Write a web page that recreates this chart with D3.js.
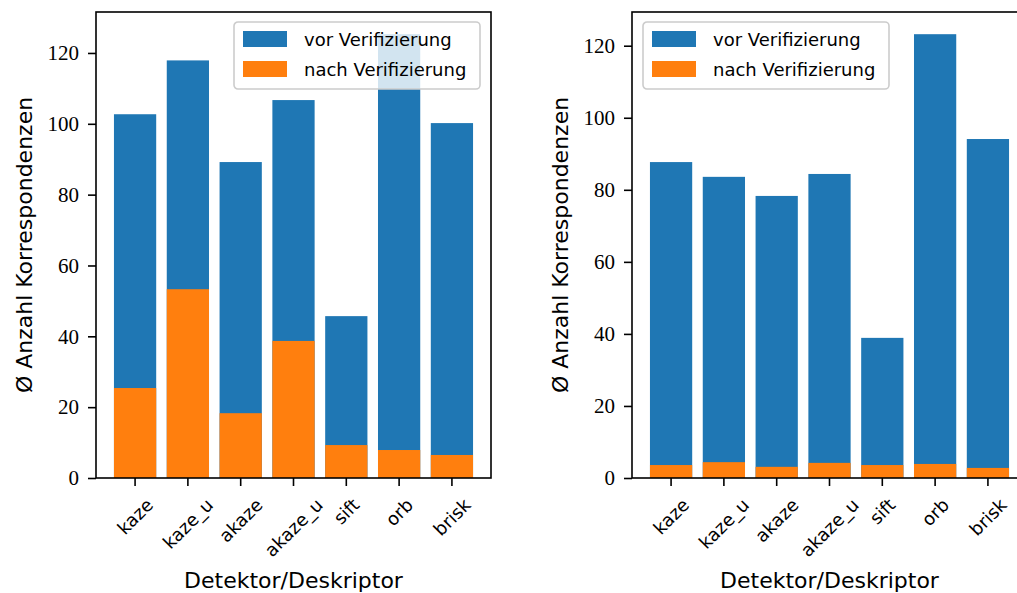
<!DOCTYPE html>
<html>
<head>
<meta charset="utf-8">
<script src="https://cdn.jsdelivr.net/npm/d3@7"></script>
<style>
  body { margin: 0; background: #fff; }
  svg { display: block; }
</style>
</head>
<body>
<script>
// categories on the x axis
var categories = ["kaze", "kaze_u", "akaze", "akaze_u", "sift", "orb", "brisk"];

// left panel
var vorLeft = [102.7, 117.9, 89.2, 106.7, 45.7, 125.3, 100.2];
var nachLeft = [25.4, 53.3, 18.3, 38.7, 9.3, 7.9, 6.5];

// right panel
var vorRight = [87.7, 83.6, 78.3, 84.4, 38.9, 123.2, 94.1];
var nachRight = [3.6, 4.4, 3.1, 4.2, 3.6, 3.9, 2.8];

var yTicks = [0, 20, 40, 60, 80, 100, 120];
var seriesNames = ["vor Verifizierung", "nach Verifizierung"];
var colors = ["#1f77b4", "#ff7f0e"];

var width = 1017, height = 593;
var svg = d3.select("body").append("svg")
    .attr("width", width)
    .attr("height", height);

var sansFont = "'DejaVu Sans', sans-serif";
var serifFont = "'Liberation Serif', 'DejaVu Serif', serif";

function drawPanel(left, vor, nach, legendSide) {
    var top = 12, bottom = 478, w = 395;

    var x = d3.scaleBand()
        .domain(categories)
        .range([left, left + w])
        .paddingInner(0.2)
        .paddingOuter(0.34);

    var y = d3.scaleLinear()
        .domain([0, d3.max(vor) * 1.05])
        .range([bottom, top]);

    var g = svg.append("g");

    // bars: before verification, then after verification drawn on top
    g.selectAll(".vor")
        .data(vor)
        .enter()
        .append("rect")
        .attr("x", function (d, i) { return x(categories[i]); })
        .attr("y", function (d) { return y(d); })
        .attr("width", x.bandwidth())
        .attr("height", function (d) { return y(0) - y(d); })
        .attr("fill", colors[0]);

    g.selectAll(".nach")
        .data(nach)
        .enter()
        .append("rect")
        .attr("x", function (d, i) { return x(categories[i]); })
        .attr("y", function (d) { return y(d); })
        .attr("width", x.bandwidth())
        .attr("height", function (d) { return y(0) - y(d); })
        .attr("fill", colors[1]);

    // y axis
    var yAxis = g.append("g")
        .attr("transform", "translate(" + left + ",0)")
        .call(d3.axisLeft(y).tickValues(yTicks).tickSize(8).tickPadding(9));
    yAxis.select(".domain").remove();
    yAxis.selectAll("line").attr("stroke", "#000").attr("stroke-width", 1.6);
    yAxis.selectAll("text")
        .attr("font-family", serifFont)
        .attr("font-size", "21px")
        .attr("fill", "#000");

    // x axis
    var xAxis = g.append("g")
        .attr("transform", "translate(0," + bottom + ")")
        .call(d3.axisBottom(x).tickSize(8).tickPadding(0));
    xAxis.select(".domain").remove();
    xAxis.selectAll("line").attr("stroke", "#000").attr("stroke-width", 1.6);
    xAxis.selectAll("text")
        .attr("font-family", sansFont)
        .attr("font-size", "18px")
        .attr("fill", "#000")
        .attr("text-anchor", "middle")
        .attr("dominant-baseline", "central")
        .attr("y", 0)
        .attr("dy", null)
        .each(function () {
            // rotate 45deg and center the rotated box under the tick
            var tw = this.getComputedTextLength();
            var th = 13;
            var s = Math.SQRT1_2;
            var cy = 19 + (tw * s + th * s) / 2;
            d3.select(this).attr("transform", "translate(0," + cy + ") rotate(-45)");
        });

    // spines
    g.append("rect")
        .attr("x", left)
        .attr("y", top)
        .attr("width", w)
        .attr("height", bottom - top)
        .attr("fill", "none")
        .attr("stroke", "#000")
        .attr("stroke-width", 1.6);

    // axis labels
    g.append("text")
        .attr("x", left + w / 2)
        .attr("y", 588)
        .attr("text-anchor", "middle")
        .attr("font-family", sansFont)
        .attr("font-size", "22px")
        .text("Detektor/Deskriptor");

    g.append("text")
        .attr("transform", "translate(" + (left - 64) + "," + ((top + bottom) / 2) + ") rotate(-90)")
        .attr("text-anchor", "middle")
        .attr("font-family", sansFont)
        .attr("font-size", "22px")
        .text("Ø Anzahl Korrespondenzen");

    // legend
    var lw = 246, lh = 67;
    var lx = legendSide === "right" ? left + w - 11 - lw : left + 11;
    var ly = 22;
    var legend = g.append("g").attr("transform", "translate(" + lx + "," + ly + ")");
    legend.append("rect")
        .attr("width", lw)
        .attr("height", lh)
        .attr("rx", 4)
        .attr("fill", "#fff")
        .attr("fill-opacity", 0.8)
        .attr("stroke", "#cccccc")
        .attr("stroke-width", 1.6);

    var items = legend.selectAll(".item")
        .data(seriesNames)
        .enter()
        .append("g")
        .attr("transform", function (d, i) { return "translate(9," + (9 + i * 30) + ")"; });
    items.append("rect")
        .attr("width", 44)
        .attr("height", 16)
        .attr("fill", function (d, i) { return colors[i]; });
    items.append("text")
        .attr("x", 61)
        .attr("y", 8)
        .attr("dominant-baseline", "central")
        .attr("font-family", sansFont)
        .attr("font-size", "18px")
        .text(function (d) { return d; });
}

drawPanel(96, vorLeft, nachLeft, "right");
drawPanel(632, vorRight, nachRight, "left");
</script>
</body>
</html>
